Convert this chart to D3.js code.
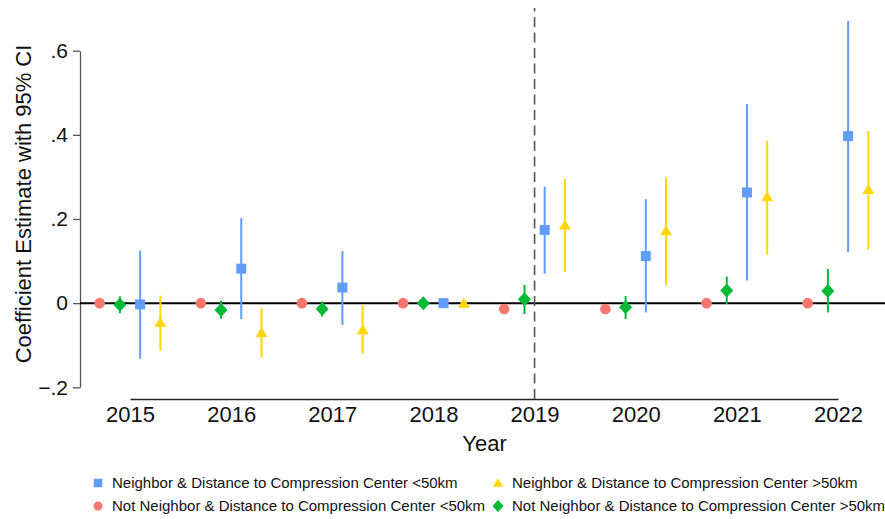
<!DOCTYPE html>
<html>
<head>
<meta charset="utf-8">
<script src="https://cdn.jsdelivr.net/npm/d3@7"></script>
<style>
  body { margin: 0; background: #fff; }
  svg text { font-family: "Liberation Sans", Arial, Helvetica, sans-serif; fill: #111; }
</style>
</head>
<body>
<div id="chart"></div>
<script>
// years on the x axis
var years = [2015, 2016, 2017, 2018, 2019, 2020, 2021, 2022];
var yTicks = [-0.2, 0, 0.2, 0.4, 0.6];

// Neighbor & Distance <50km (blue squares)
var nearEst = [-0.003, 0.082, 0.037, 0, 0.174, 0.112, 0.263, 0.397];
var nearLo  = [-0.132, -0.038, -0.052, 0, 0.070, -0.022, 0.054, 0.121];
var nearHi  = [0.125, 0.202, 0.124, 0, 0.277, 0.247, 0.473, 0.671];

// Neighbor & Distance >50km (yellow triangles)
var farEst = [-0.046, -0.070, -0.063, 0, 0.186, 0.172, 0.253, 0.270];
var farLo  = [-0.113, -0.129, -0.120, 0, 0.074, 0.042, 0.115, 0.127];
var farHi  = [0.018, -0.012, -0.006, 0, 0.295, 0.299, 0.386, 0.409];

// Not Neighbor & Distance <50km (red circles), no visible CI
var notNearEst = [0, 0, 0, 0, -0.014, -0.014, 0, 0];

// Not Neighbor & Distance >50km (green diamonds)
var notFarEst = [-0.004, -0.016, -0.014, 0, 0.009, -0.010, 0.030, 0.029];
var notFarLo  = [-0.024, -0.037, -0.032, 0, -0.026, -0.038, -0.002, -0.022];
var notFarHi  = [0.016, 0.006, 0.004, 0, 0.043, 0.017, 0.063, 0.081];

var width = 885, height = 519;

var svg = d3.select("#chart").append("svg")
    .attr("width", width)
    .attr("height", height);

var x = d3.scaleLinear().domain([2015, 2022]).range([130, 838]);
var y = d3.scaleLinear().domain([-0.2, 0.6]).range([387.3, 50.7]);

var series = [
  {name: "Neighbor & Distance to Compression Center <50km", color: "#619CFF", shape: "square", off: 0.1,
   est: nearEst, lo: nearLo, hi: nearHi},
  {name: "Not Neighbor & Distance to Compression Center <50km", color: "#F8766D", shape: "circle", off: -0.3,
   est: notNearEst, lo: null, hi: null},
  {name: "Neighbor & Distance to Compression Center >50km", color: "#FFD700", shape: "triangle", off: 0.3,
   est: farEst, lo: farLo, hi: farHi},
  {name: "Not Neighbor & Distance to Compression Center >50km", color: "#00BA38", shape: "diamond", off: -0.1,
   est: notFarEst, lo: notFarLo, hi: notFarHi}
];

function marker(g, shape, color) {
  if (shape == "square") {
    g.append("rect").attr("x", -5).attr("y", -5).attr("width", 10).attr("height", 10).attr("fill", color);
  } else if (shape == "circle") {
    g.append("circle").attr("r", 5.3).attr("fill", color);
  } else if (shape == "triangle") {
    g.append("path").attr("d", "M0,-5.5L6,4.5L-6,4.5Z").attr("fill", color);
  } else {
    g.append("path").attr("d", "M0,-7L6.5,0L0,7L-6.5,0Z").attr("fill", color);
  }
}

// y axis
var yAxis = d3.axisLeft(y)
    .tickValues(yTicks)
    .tickSize(7)
    .tickSizeOuter(0)
    .tickPadding(5)
    .tickFormat(function(d) { return d === 0 ? "0" : d3.format(".1f")(d).replace("0.", "."); });

var gy = svg.append("g").attr("transform", "translate(80,0)").call(yAxis);
gy.select(".domain").attr("stroke", "#555").attr("stroke-width", 1.3);
gy.selectAll(".tick line").attr("stroke", "#555").attr("stroke-width", 1.3);
gy.selectAll(".tick text").style("font-size", "21px").attr("fill", "#111");

// x axis, no ticks
var xAxis = d3.axisBottom(x)
    .tickValues(years)
    .tickSize(0)
    .tickSizeOuter(0)
    .tickPadding(7)
    .tickFormat(d3.format("d"));

var gx = svg.append("g").attr("transform", "translate(0,399)").call(xAxis);
gx.select(".domain").attr("stroke", "#222").attr("stroke-width", 1.3);
gx.selectAll(".tick text").style("font-size", "22px").attr("fill", "#111");

// axis titles
svg.append("text")
    .attr("transform", "translate(31," + 204 + ") rotate(-90)")
    .attr("text-anchor", "middle")
    .style("font-size", "22px")
    .text("Coefficient Estimate with 95% CI");

svg.append("text")
    .attr("x", x(2019) - 50)
    .attr("y", 451)
    .attr("text-anchor", "middle")
    .style("font-size", "22px")
    .text("Year");

// zero line
svg.append("line")
    .attr("x1", 80).attr("x2", width)
    .attr("y1", y(0)).attr("y2", y(0))
    .attr("stroke", "#000")
    .attr("stroke-width", 2);

// 2019 reference line
svg.append("line")
    .attr("x1", x(2019)).attr("x2", x(2019))
    .attr("y1", 399).attr("y2", 8)
    .attr("stroke", "#555")
    .attr("stroke-width", 1.6)
    .attr("stroke-dasharray", "10,5.5");

// confidence intervals
series.forEach(function(s) {
  if (!s.lo) return;
  svg.append("g").selectAll("line")
    .data(years.map(function(yr, i) { return {yr: yr, lo: s.lo[i], hi: s.hi[i]}; }))
    .enter().append("line")
    .attr("x1", function(d) { return x(d.yr + s.off); })
    .attr("x2", function(d) { return x(d.yr + s.off); })
    .attr("y1", function(d) { return y(d.lo); })
    .attr("y2", function(d) { return y(d.hi); })
    .attr("stroke", s.color)
    .attr("stroke-width", 2);
});

// point estimates
series.forEach(function(s) {
  years.forEach(function(yr, i) {
    var g = svg.append("g").attr("transform", "translate(" + x(yr + s.off) + "," + y(s.est[i]) + ")");
    marker(g, s.shape, s.color);
  });
});

// legend, two columns
var legX = [98, 498], legY = [483, 506];
series.forEach(function(s, i) {
  var col = Math.floor(i / 2), row = i % 2;
  var g = svg.append("g").attr("transform", "translate(" + legX[col] + "," + legY[row] + ")");
  var lg = g.append("g").attr("transform", "scale(0.85)");
  marker(lg, s.shape, s.color);
  g.append("text")
    .attr("x", 14)
    .attr("y", 5.4)
    .style("font-size", "15px")
    .text(s.name);
});
</script>
</body>
</html>
